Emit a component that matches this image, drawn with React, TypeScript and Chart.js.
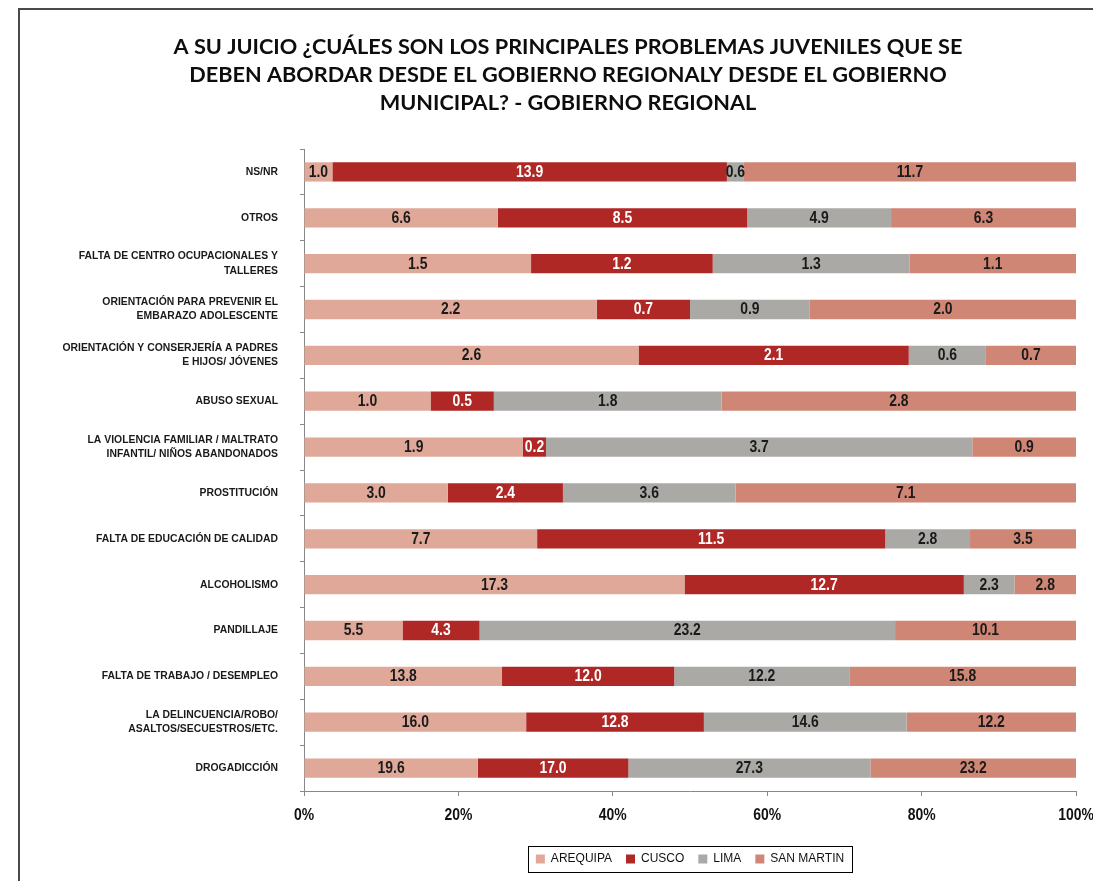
import React, { useEffect, useRef } from 'react';
import { Chart, registerables } from 'chart.js';

Chart.register(...registerables);

const titleLines = [
  'A SU JUICIO ¿CUÁLES SON LOS PRINCIPALES PROBLEMAS JUVENILES QUE SE',
  'DEBEN ABORDAR DESDE EL GOBIERNO REGIONALY DESDE EL GOBIERNO',
  'MUNICIPAL? - GOBIERNO REGIONAL',
];

const categories: (string | string[])[] = [
  'NS/NR',
  'OTROS',
  ['FALTA DE CENTRO OCUPACIONALES Y', 'TALLERES'],
  ['ORIENTACIÓN PARA PREVENIR EL', 'EMBARAZO ADOLESCENTE'],
  ['ORIENTACIÓN Y CONSERJERÍA A PADRES', 'E HIJOS/ JÓVENES'],
  'ABUSO SEXUAL',
  ['LA VIOLENCIA FAMILIAR / MALTRATO', 'INFANTIL/ NIÑOS ABANDONADOS'],
  'PROSTITUCIÓN',
  'FALTA DE EDUCACIÓN DE CALIDAD',
  'ALCOHOLISMO',
  'PANDILLAJE',
  'FALTA DE TRABAJO / DESEMPLEO',
  ['LA DELINCUENCIA/ROBO/', 'ASALTOS/SECUESTROS/ETC.'],
  'DROGADICCIÓN',
];

const arequipa = [1.0, 6.6, 1.5, 2.2, 2.6, 1.0, 1.9, 3.0, 7.7, 17.3, 5.5, 13.8, 16.0, 19.6];
const cusco = [13.9, 8.5, 1.2, 0.7, 2.1, 0.5, 0.2, 2.4, 11.5, 12.7, 4.3, 12.0, 12.8, 17.0];
const lima = [0.6, 4.9, 1.3, 0.9, 0.6, 1.8, 3.7, 3.6, 2.8, 2.3, 23.2, 12.2, 14.6, 27.3];
const sanMartin = [11.7, 6.3, 1.1, 2.0, 0.7, 2.8, 0.9, 7.1, 3.5, 2.8, 10.1, 15.8, 12.2, 23.2];

const seriesNames = ['AREQUIPA', 'CUSCO', 'LIMA', 'SAN MARTIN'];
const seriesColors = ['#DFA898', '#B02826', '#AAA9A6', '#CF8674'];
const labelColors = ['#1a1a1a', '#ffffff', '#1a1a1a', '#1a1a1a'];

const xTickValues = [0, 20, 40, 60, 80, 100];
const xTickLabels = ['0%', '20%', '40%', '60%', '80%', '100%'];

const FONT = "'Liberation Sans', Arial, sans-serif";
const TITLE_FONT = "Lato, 'Open Sans', sans-serif";
const NARROW_SCALE = 0.87;

function drawCondensed(ctx: CanvasRenderingContext2D, text: string, x: number, y: number) {
  ctx.save();
  ctx.translate(x, y);
  ctx.scale(NARROW_SCALE, 1);
  ctx.fillText(text, 0, 0);
  ctx.restore();
}

export default function App() {
  const ref = useRef<HTMLCanvasElement | null>(null);

  useEffect(() => {
    if (!ref.current) return;
    const series = [arequipa, cusco, lima, sanMartin];
    const totals = categories.map((_, i) => series.reduce((s, arr) => s + arr[i], 0));

    const datasets = series.map((vals, k) => ({
      label: seriesNames[k],
      data: vals.map((v, i) => (v / totals[i]) * 100),
      rawValues: vals,
      backgroundColor: seriesColors[k],
      borderWidth: 0,
      categoryPercentage: 1,
      barPercentage: 0.42,
    }));

    const framePlugin = {
      id: 'framePlugin',
      beforeDraw(chart: any) {
        const ctx = chart.ctx;
        ctx.save();
        ctx.fillStyle = '#ffffff';
        ctx.fillRect(0, 0, chart.width, chart.height);
        ctx.strokeStyle = '#4a4a4a';
        ctx.lineWidth = 2;
        ctx.beginPath();
        ctx.moveTo(19, chart.height);
        ctx.lineTo(19, 9);
        ctx.lineTo(chart.width, 9);
        ctx.stroke();
        ctx.restore();
      },
      afterDraw(chart: any) {
        const ctx = chart.ctx;
        ctx.save();
        // title
        ctx.fillStyle = '#0d0d0d';
        ctx.font = `bold 21.7px ${TITLE_FONT}`;
        ctx.textAlign = 'center';
        ctx.textBaseline = 'middle';
        titleLines.forEach((line, i) => {
          ctx.fillText(line, 568, 47 + i * 28);
        });
        // x tick labels
        const xs = chart.scales.x;
        ctx.font = `bold 16px ${FONT}`;
        ctx.fillStyle = '#111111';
        xTickValues.forEach((v, i) => {
          drawCondensed(ctx, xTickLabels[i], xs.getPixelForValue(v), xs.top + 25);
        });
        // legend border
        const lg = chart.legend;
        if (lg && lg.legendHitBoxes && lg.legendHitBoxes.length) {
          const hb = lg.legendHitBoxes;
          const left = Math.min(...hb.map((h: any) => h.left)) - 8;
          const right = Math.max(...hb.map((h: any) => h.left + h.width)) + 8;
          const top = Math.min(...hb.map((h: any) => h.top)) - 7;
          const bottom = Math.max(...hb.map((h: any) => h.top + h.height)) + 7;
          ctx.strokeStyle = '#000000';
          ctx.lineWidth = 1;
          ctx.strokeRect(Math.round(left) + 0.5, Math.round(top) + 0.5, Math.round(right - left), Math.round(bottom - top));
        }
        ctx.restore();
      },
    };

    const valueLabels = {
      id: 'valueLabels',
      afterDatasetsDraw(chart: any) {
        const ctx = chart.ctx;
        ctx.save();
        ctx.font = `bold 16px ${FONT}`;
        ctx.textAlign = 'center';
        ctx.textBaseline = 'middle';
        chart.data.datasets.forEach((ds: any, k: number) => {
          const meta = chart.getDatasetMeta(k);
          meta.data.forEach((el: any, i: number) => {
            const cx = (el.x + el.base) / 2;
            ctx.fillStyle = labelColors[k];
            drawCondensed(ctx, ds.rawValues[i].toFixed(1), cx, el.y + 0.5);
          });
        });
        ctx.restore();
      },
    };

    const chart = new Chart(ref.current, {
      type: 'bar',
      data: { labels: categories as any, datasets: datasets as any },
      options: {
        indexAxis: 'y',
        responsive: false,
        animation: false,
        layout: { padding: { top: 149, left: 0, right: 17, bottom: 6 } },
        scales: {
          x: {
            stacked: true,
            min: 0,
            max: 100,
            ticks: {
              display: false,
              stepSize: 20,
            },
            grid: { drawOnChartArea: false, drawTicks: true, tickLength: 5, color: '#888888' },
            border: { display: true, color: '#888888' },
            afterFit: (s: any) => {
              s.height = 48;
              s.paddingRight = 0;
              s.paddingLeft = 0;
            },
          },
          y: {
            stacked: true,
            ticks: {
              font: { family: FONT, size: 10.4, weight: 'bold', lineHeight: 1.35 },
              color: '#1a1a1a',
              padding: 22,
              autoSkip: false,
            },
            grid: { drawOnChartArea: false, drawTicks: true, tickLength: 4, color: '#888888', offset: true },
            border: { display: true, color: '#888888' },
            afterFit: (s: any) => {
              s.width = 304;
            },
          },
        },
        plugins: {
          tooltip: { enabled: false },
          title: { display: false },
          legend: {
            position: 'bottom',
            fullSize: false,
            labels: {
              boxWidth: 9,
              boxHeight: 9,
              padding: 14,
              color: '#111111',
              font: { family: FONT, size: 12 },
            },
          },
        },
      } as any,
      plugins: [framePlugin, valueLabels],
    });

    return () => chart.destroy();
  }, []);

  return (
    <div style={{ position: 'absolute', left: 0, top: 0, width: 1093, height: 881, overflow: 'hidden' }}>
      <canvas ref={ref} width={1093} height={881} />
    </div>
  );
}
